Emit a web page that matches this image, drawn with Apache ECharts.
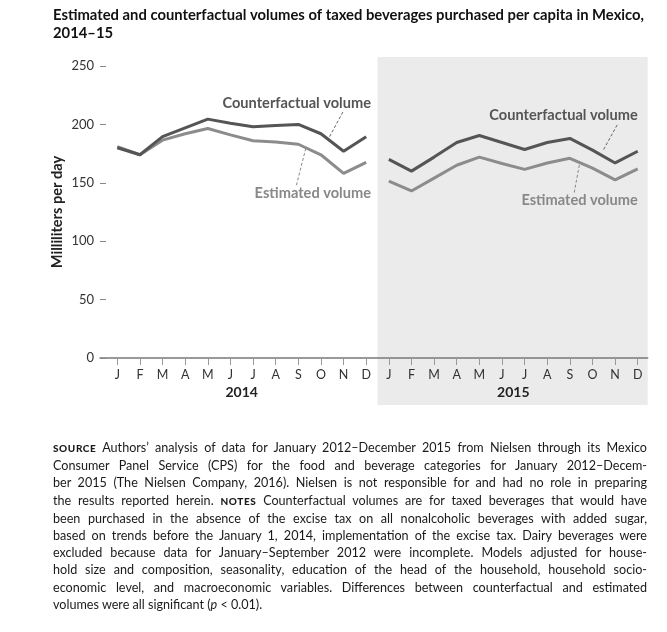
<!DOCTYPE html>
<html>
<head>
<meta charset="utf-8">
<script src="https://cdn.jsdelivr.net/npm/echarts@6/dist/echarts.min.js"></script>
<style>
  html, body { margin: 0; padding: 0; background: #fff; }
  #wrap { position: relative; width: 667px; height: 632px; }
  #chart { position: absolute; left: 0; top: 0; width: 667px; height: 632px; }
  #notes { position: absolute; left: 53px; top: 439px; width: 594px;
           font-family: Lato, "Open Sans", sans-serif; font-size: 12.6px; line-height: 17.2px; color: #1a1a1a; }
  #notes div { white-space: nowrap; text-align: justify; text-align-last: justify; }
  #notes div.last { text-align-last: left; }
  #notes b { font-size: 10px; letter-spacing: 0.6px; font-weight: 900; }
</style>
</head>
<body>
<div id="wrap">
  <div id="chart"></div>
  <div id="notes">
    <div><b>SOURCE</b> Authors’ analysis of data for January 2012–December 2015 from Nielsen through its Mexico</div>
    <div>Consumer Panel Service (CPS) for the food and beverage categories for January 2012–Decem-</div>
    <div>ber 2015 (The Nielsen Company, 2016). Nielsen is not responsible for and had no role in preparing</div>
    <div>the results reported herein. <b>NOTES</b> Counterfactual volumes are for taxed beverages that would have</div>
    <div>been purchased in the absence of the excise tax on all nonalcoholic beverages with added sugar,</div>
    <div>based on trends before the January 1, 2014, implementation of the excise tax. Dairy beverages were</div>
    <div>excluded because data for January–September 2012 were incomplete. Models adjusted for house-</div>
    <div>hold size and composition, seasonality, education of the head of the household, household socio-</div>
    <div>economic level, and macroeconomic variables. Differences between counterfactual and estimated</div>
    <div class="last">volumes were all significant (<i>p</i> &lt; 0.01).</div>
  </div>
</div>
<script>
// ---- data ----
const monthLabels = ['J','F','M','A','M','J','J','A','S','O','N','D',
                     'J','F','M','A','M','J','J','A','S','O','N','D'];
const yearLabels = ['2014', '2015'];
const counterfactual = [180, 174, 189.5, 197, 204.5, 201, 198, 199, 200, 192, 177, 189.5,
                        170, 160, 172, 184.5, 190.5, 184.5, 178.5, 184.5, 188, 178, 167, 177];
const estimated = [181, 174, 186.5, 192, 196.5, 191, 186, 185, 183, 174, 158, 167.5,
                   151.5, 143, 154, 165, 172, 166.5, 161.5, 167, 171, 162.5, 152.5, 162];
const yTicks = [0, 50, 100, 150, 200, 250];

const FONT = 'Lato, "Open Sans", sans-serif';
const monthIdx = monthLabels.map((_, i) => i);
const yearIdx = [5.5, 17.5];

// break the line between the two years
function withYearGap(values) {
  const out = [];
  values.forEach((v, i) => {
    if (i === 12) out.push([11.5, '-']);
    out.push([i, v]);
  });
  return out;
}

const chart = echarts.init(document.getElementById('chart'), null, { renderer: 'canvas' });

const option = {
  animation: false,
  backgroundColor: '#fff',
  title: {
    text: 'Estimated and counterfactual volumes of taxed beverages purchased per capita in Mexico,\n2014–15',
    left: 53, top: 6, padding: 0,
    textStyle: { fontFamily: FONT, fontSize: 14.8, fontWeight: 'bold', color: '#111', lineHeight: 18 }
  },
  grid: { left: 100, right: 19.3, top: 66, bottom: 274, containLabel: false },
  xAxis: [{
    type: 'value', min: -0.764, max: 23.44,
    axisLine: { show: true, onZero: false, lineStyle: { color: '#7a7a7a', width: 1.5 } },
    axisTick: { show: true, customValues: monthIdx, length: 7, lineStyle: { color: '#999', width: 1 } },
    axisLabel: { show: true, customValues: monthIdx, margin: 10,
      formatter: v => monthLabels[Math.round(v)],
      fontFamily: FONT, fontSize: 12.5, color: '#333' },
    splitLine: { show: false }
  }, {
    type: 'value', min: -0.764, max: 23.44, position: 'bottom',
    axisLine: { show: false, onZero: false }, axisTick: { show: false }, splitLine: { show: false },
    axisLabel: { show: true, customValues: yearIdx, margin: 27,
      formatter: v => yearLabels[v < 12 ? 0 : 1],
      fontFamily: FONT, fontSize: 14, fontWeight: 'bold', color: '#222' }
  }],
  yAxis: {
    type: 'value', min: 0, max: 250, interval: 50,
    name: 'Milliliters per day', nameLocation: 'middle', nameGap: 35, nameMoveOverlap: false,
    nameTextStyle: { fontFamily: FONT, fontSize: 14.6, fontWeight: 'bold', color: '#222' },
    axisLine: { show: false, onZero: false },
    axisTick: { show: true, inside: true, length: 6, lineStyle: { color: '#888' } },
    axisLabel: { margin: 6, fontFamily: FONT, fontSize: 13, color: '#333',
      formatter: v => yTicks.includes(v) ? String(v) : '' },
    splitLine: { show: false }
  },
  series: [{
    name: 'Counterfactual volume', type: 'line', xAxisIndex: 0,
    data: withYearGap(counterfactual), connectNulls: false,
    symbol: 'none', lineStyle: { color: '#555555', width: 3 }, z: 3
  }, {
    name: 'Estimated volume', type: 'line', xAxisIndex: 0,
    data: withYearGap(estimated), connectNulls: false,
    symbol: 'none', lineStyle: { color: '#8c8c8c', width: 3 }, z: 2
  }]
};
chart.setOption(option);

// annotation anchors in data units [index, value]
const labels = [
  { text: 'Counterfactual volume', at: [11.21, 218.3], color: '#555' },
  { text: 'Estimated volume', at: [11.21, 141.3], color: '#888' },
  { text: 'Counterfactual volume', at: [23.0, 208.0], color: '#555' },
  { text: 'Estimated volume', at: [23.0, 134.7], color: '#888' }
];
const leaders = [
  { from: [9.97, 210.6], to: [9.35, 188.4], color: '#666' },
  { from: [8.33, 179.5], to: [7.90, 146.7], color: '#888' },
  { from: [22.09, 199.5], to: [21.48, 178.1], color: '#666' },
  { from: [20.42, 165.2], to: [20.19, 141.5], color: '#888' }
];
const shadeFrom = 11.5, shadeTo = 23.44;

function px(p) { return chart.convertToPixel({ gridIndex: 0 }, p); }

const topL = px([shadeFrom, 250]);
const botR = px([shadeTo, 0]);
const graphics = [{
  type: 'rect', z: -10, silent: true,
  shape: { x: topL[0], y: topL[1] - 9, width: botR[0] - topL[0], height: (botR[1] + 47) - (topL[1] - 9) },
  style: { fill: '#ebebeb' }
}];
labels.forEach(l => {
  const p = px(l.at);
  graphics.push({ type: 'text', z: 5, x: p[0], y: p[1],
    style: { text: l.text, fill: l.color, font: 'bold 14.6px ' + FONT, textAlign: 'right', textVerticalAlign: 'middle' } });
});
leaders.forEach(l => {
  const a = px(l.from), b = px(l.to);
  graphics.push({ type: 'line', z: 5,
    shape: { x1: a[0], y1: a[1], x2: b[0], y2: b[1] },
    style: { stroke: l.color, lineWidth: 1, lineDash: [3, 2] } });
});
chart.setOption({ graphic: graphics });
</script>
</body>
</html>
